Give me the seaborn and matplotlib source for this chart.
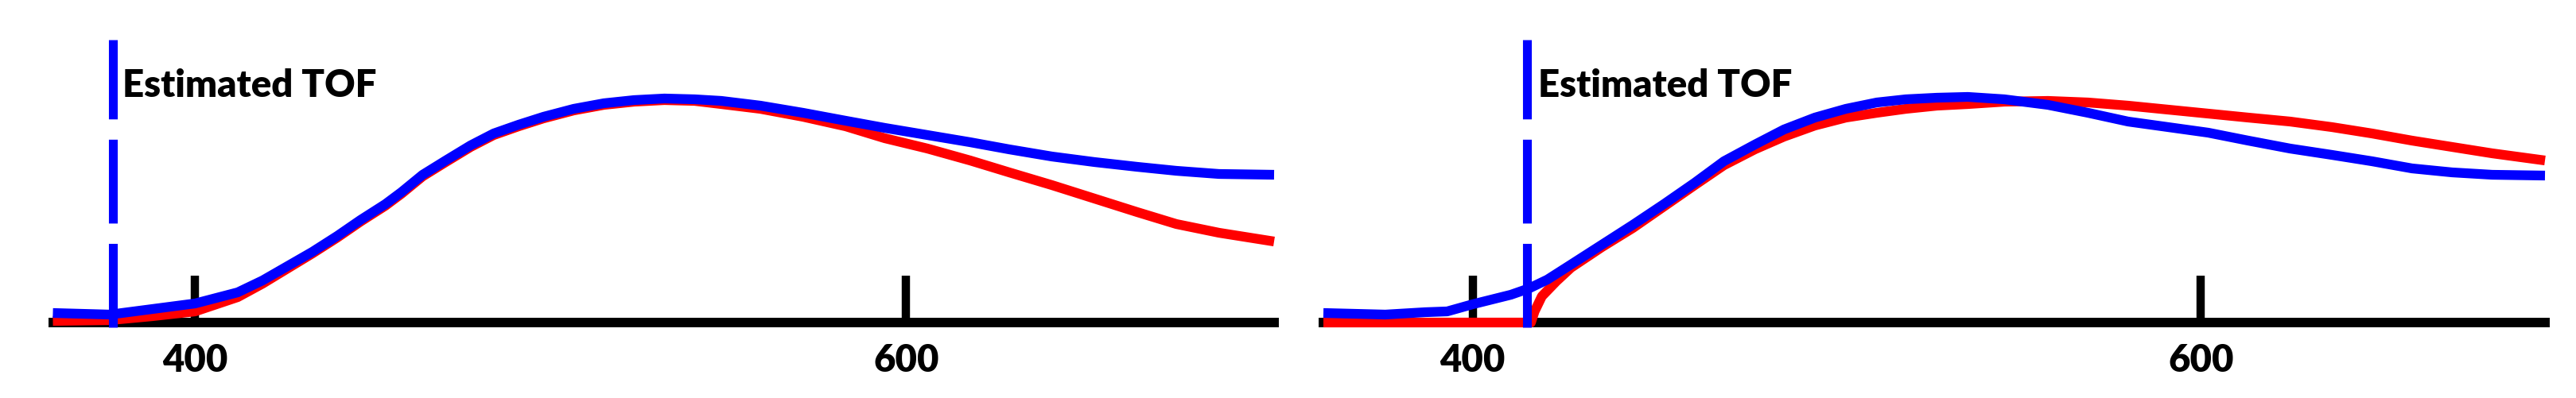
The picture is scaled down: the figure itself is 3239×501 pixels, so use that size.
import numpy as np
import pandas as pd
import seaborn as sns
import matplotlib.pyplot as plt

# two TOF panels, amplitudes (arbitrary units, peak ~283)

# panel 1
p1_x = [360, 376, 388, 400, 412, 419, 426, 433, 440, 446.5, 453.5, 458, 464, 470.5,
        477.5, 484, 491, 498, 506.5, 515, 523.5, 532, 540.5, 548, 559, 571, 583, 594,
        606, 618, 629, 641, 653, 665, 676, 688, 703.5]
p1_blue = [12, 10, 17, 24, 38, 53, 71, 89, 109, 129, 149, 164, 186, 204,
           223, 238, 249, 259, 269, 276, 280, 282, 281, 279, 273, 264, 254, 245,
           236, 227, 218, 209, 202, 196, 191, 187, 186]
p1_red = [2, 3, 8, 14, 32, 49, 68, 87, 107, 127, 147, 162, 184, 202,
          221, 236, 247, 257, 267, 274, 278, 280, 279, 275, 269, 259, 247, 232,
          219, 204, 189, 173, 156, 139, 124, 113, 102]
p1_tof = 377

# panel 2
p2_x_blue = [359, 376, 387, 393, 400, 410.5, 415.5, 420.5, 427, 435.5, 444, 452.5, 461,
             469, 477.5, 485.5, 494, 502.5, 511, 519, 527.5, 536, 546, 558, 569, 580,
             591, 602, 613, 624.5, 636, 647, 658, 669, 680, 694.5]
p2_blue = [12, 10, 13, 14, 23, 35, 43, 54, 73, 98, 123, 149, 176,
           203, 224, 243, 258, 269, 277, 281, 283, 284, 281, 274, 264, 253,
           246, 239, 229, 219, 211, 203, 194, 189, 186, 185]
p2_x_red = [359, 380, 400, 416, 417, 419, 423, 427, 435.5, 444, 452.5, 461, 469, 477.5,
            485.5, 494, 502.5, 511, 519, 527.5, 536, 546, 558, 569, 580, 591, 602, 613,
            624.5, 636, 647, 658, 669, 680, 694.5]
p2_red = [0, 0, 0, 0, 14, 33, 52, 69, 95, 119, 146, 173, 198, 218,
          234, 248, 258, 264, 269, 273, 275, 278, 279, 277, 273, 268, 263, 258,
          253, 246, 238, 229, 221, 213, 204]
p2_tof = 415

tick_vals = [400, 600]
tick_text = ['400', '600']
label = 'Estimated TOF'

sns.set_style('white')
plt.rcParams['font.family'] = ['Lato', 'DejaVu Sans']
plt.rcParams['font.weight'] = 'heavy'

W, H = 3239, 501
fig = plt.figure(figsize=(W / 100, H / 100), dpi=100)
ax1 = fig.add_axes([66.5 / W, 95 / H, 1535.5 / W, 356 / H])
ax2 = fig.add_axes([1664 / W, 95 / H, 1536 / W, 356 / H])

panels = [
    (ax1, p1_x, p1_red, p1_x, p1_blue, p1_tof, (360, 703.5), 8),
    (ax2, p2_x_red, p2_red, p2_x_blue, p2_blue, p2_tof, (359, 694.5), 10),
]

for ax, xr, yr, xb, yb, tof, xlim, off in panels:
    red = pd.DataFrame({'t': xr, 'amp': yr})
    blue = pd.DataFrame({'t': xb, 'amp': yb})
    sns.lineplot(data=red, x='t', y='amp', color='#ff0000', ax=ax, zorder=3)
    sns.lineplot(data=blue, x='t', y='amp', color='#0000ff', ax=ax, zorder=4)
    # seaborn keeps its own width, so set it on the drawn lines
    for ln in ax.lines:
        ln.set_linewidth(8.8)
        ln.set_solid_joinstyle('round')
        ln.set_solid_capstyle('butt')
        ln.set_clip_on(False)
    ax.axvline(tof, ymin=-6 / 356, ymax=1, color='#0000ff', linewidth=8,
               dashes=(9.5, 2.3), zorder=5, clip_on=False)
    ax.annotate(label, xy=(tof, 0.798), xycoords=('data', 'axes fraction'),
                xytext=(off, 0), textcoords='offset points', va='baseline',
                fontsize=34, fontweight='heavy', color='black')
    ax.set_xlim(*xlim)
    ax.set_ylim(0, 356)
    ax.set_xticks(tick_vals)
    ax.set_xticklabels(tick_text)
    ax.set_yticks([])
    ax.set_xlabel('')
    ax.set_ylabel('')
    for s in ['left', 'top', 'right']:
        ax.spines[s].set_visible(False)
    ax.spines['bottom'].set_linewidth(8.6)
    ax.spines['bottom'].set_color('black')
    ax.spines['bottom'].set_zorder(2)
    ax.tick_params(axis='x', bottom=True, direction='in', length=42.5, width=7.5,
                   pad=19, labelsize=34, colors='black')
    ax.set_axisbelow(True)
    ax.patch.set_alpha(0)

fig.savefig('out.png', dpi=100, facecolor='white')
